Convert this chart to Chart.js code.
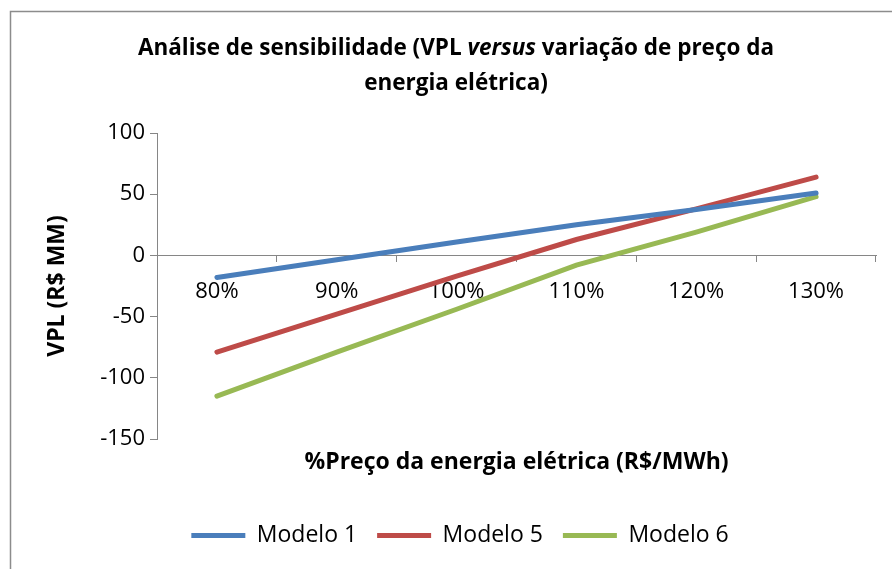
<!DOCTYPE html>
<html>
<head>
<meta charset="utf-8">
<script src="https://cdn.jsdelivr.net/npm/chart.js@4"></script>
<style>
  html, body { margin: 0; padding: 0; background: #fff; }
  #wrap { width: 892px; height: 569px; position: relative; }
</style>
</head>
<body>
<div id="wrap"><canvas id="chart"></canvas></div>
<script>
// data
const categories = ['80%', '90%', '100%', '110%', '120%', '130%'];
const modelo1 = [-18, -3.5, 11, 25, 37.5, 51];
const modelo5 = [-79, -48, -17, 13, 38, 64];
const modelo6 = [-115, -79, -44, -8, 19, 48];
const yMin = -150;
const yMax = 100;
const yStep = 50;

const FONT = "'Open Sans', 'Liberation Sans', sans-serif";
const AXIS_GRAY = '#868686';

// white background + chart frame (left and top edges visible)
const framePlugin = {
  id: 'frame',
  beforeDraw(chart) {
    const ctx = chart.ctx;
    ctx.save();
    ctx.fillStyle = '#fff';
    ctx.fillRect(0, 0, chart.width, chart.height);
    ctx.strokeStyle = '#8c8c8c';
    ctx.lineWidth = 1.5;
    ctx.beginPath();
    ctx.moveTo(10.5, chart.height);
    ctx.lineTo(10.5, 11.5);
    ctx.lineTo(chart.width, 11.5);
    ctx.stroke();
    ctx.restore();
  }
};

// title with "versus" in italic
const titlePlugin = {
  id: 'mixedTitle',
  afterDraw(chart) {
    const ctx = chart.ctx;
    const cx = 456;
    const size = 22.5;
    const line1 = [
      { t: 'Análise de sensibilidade (VPL ', italic: false },
      { t: 'versus', italic: true },
      { t: ' variação de preço da', italic: false }
    ];
    ctx.save();
    ctx.fillStyle = '#000';
    ctx.textBaseline = 'middle';
    let total = 0;
    line1.forEach(p => {
      ctx.font = (p.italic ? 'italic ' : '') + 'bold ' + size + 'px ' + FONT;
      p.w = ctx.measureText(p.t).width;
      total += p.w;
    });
    let x = cx - total / 2;
    ctx.textAlign = 'left';
    line1.forEach(p => {
      ctx.font = (p.italic ? 'italic ' : '') + 'bold ' + size + 'px ' + FONT;
      ctx.fillText(p.t, x, 49);
      x += p.w;
    });
    ctx.font = 'bold ' + size + 'px ' + FONT;
    ctx.textAlign = 'center';
    ctx.fillText('energia elétrica)', cx, 84);
    ctx.restore();
  }
};

const ctx = document.getElementById('chart').getContext('2d');

new Chart(ctx, {
  type: 'line',
  data: {
    labels: categories,
    datasets: [
      { label: 'Modelo 1', data: modelo1, borderColor: '#4a7ebb', backgroundColor: '#4a7ebb' },
      { label: 'Modelo 5', data: modelo5, borderColor: '#be4b48', backgroundColor: '#be4b48' },
      { label: 'Modelo 6', data: modelo6, borderColor: '#98b954', backgroundColor: '#98b954' }
    ]
  },
  options: {
    responsive: true,
    maintainAspectRatio: false,
    animation: false,
    layout: { padding: { top: 133, left: 44, right: 16, bottom: 12 } },
    elements: {
      line: { borderWidth: 5, borderCapStyle: 'round', tension: 0 },
      point: { radius: 0, hoverRadius: 0 }
    },
    scales: {
      x: {
        type: 'category',
        position: { y: 0 },
        offset: true,
        grid: { offset: true, drawOnChartArea: false, drawTicks: true, tickLength: 6, color: AXIS_GRAY },
        border: { display: true, color: AXIS_GRAY, width: 1 },
        ticks: { color: '#000', padding: 17, maxRotation: 0, font: { family: FONT, size: 22 } }
      },
      x2: {
        type: 'category',
        labels: categories,
        position: 'bottom',
        grid: { display: false, drawTicks: false },
        border: { display: false },
        ticks: { display: false },
        title: {
          display: true,
          text: '%Preço da energia elétrica (R$/MWh)',
          color: '#000',
          font: { family: FONT, size: 23, weight: 'bold' },
          padding: { top: 0, bottom: 28 }
        },
        afterFit(scale) { scale.height = 65; }
      },
      y: {
        min: yMin,
        max: yMax,
        grid: { drawOnChartArea: false, drawTicks: true, tickLength: 7, color: AXIS_GRAY },
        border: { display: true, color: AXIS_GRAY, width: 1 },
        ticks: { stepSize: yStep, color: '#000', padding: 5, font: { family: FONT, size: 22 } },
        title: {
          display: true,
          text: 'VPL (R$ MM)',
          color: '#000',
          font: { family: FONT, size: 23, weight: 'bold' },
          padding: { top: 0, bottom: 0 }
        },
        afterFit(scale) { scale.width = 113; }
      }
    },
    plugins: {
      title: { display: false },
      tooltip: { enabled: false },
      legend: {
        position: 'bottom',
        labels: {
          color: '#000',
          boxWidth: 54,
          boxHeight: 5,
          padding: 20,
          font: { family: FONT, size: 23 },
          generateLabels(chart) {
            return chart.data.datasets.map((ds, i) => ({
              text: ds.label,
              fillStyle: ds.borderColor,
              strokeStyle: ds.borderColor,
              lineWidth: 0,
              hidden: false,
              datasetIndex: i,
              fontColor: '#000'
            }));
          }
        }
      }
    }
  },
  plugins: [framePlugin, titlePlugin]
});
</script>
</body>
</html>
